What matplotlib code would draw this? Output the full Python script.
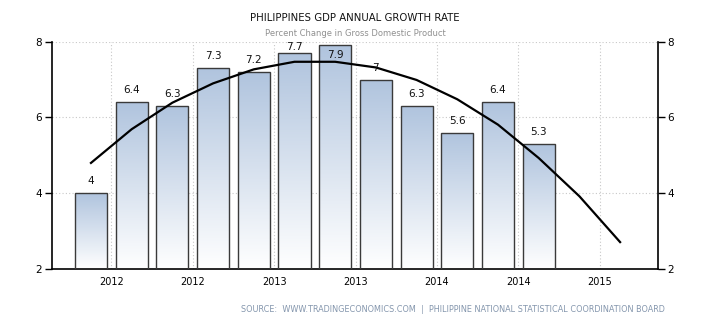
"""Philippines GDP annual growth rate: quarterly bars plus forecast line."""

import matplotlib
matplotlib.use("Agg")
import matplotlib.pyplot as plt
import numpy as np

# values
growth = [4.0, 6.4, 6.3, 7.3, 7.2, 7.7, 7.9, 7.0, 6.3, 5.6, 6.4, 5.3]
value_labels = ["4", "6.4", "6.3", "7.3", "7.2", "7.7", "7.9", "7", "6.3", "5.6", "6.4", "5.3"]
trend = [4.8, 5.69, 6.39, 6.9, 7.27, 7.47, 7.47, 7.32, 6.99, 6.48, 5.81, 4.93, 3.92, 2.71]
tick_labels = ["2012", "2012", "2013", "2013", "2014", "2014", "2015"]

TITLE = "PHILIPPINES GDP ANNUAL GROWTH RATE"
SUBTITLE = "Percent Change in Gross Domestic Product"
SOURCE = "SOURCE:  WWW.TRADINGECONOMICS.COM  |  PHILIPPINE NATIONAL STATISTICAL COORDINATION BOARD"

YMIN, YMAX = 2, 8

plt.rcParams["font.family"] = ["DejaVu Sans"]

fig = plt.figure(figsize=(7.1, 3.25), dpi=100)
ax = fig.add_axes([0.0732, 0.1723, 0.8535, 0.6994])

x_bars = np.arange(len(growth))
x_line = np.arange(len(trend))

bars = ax.bar(x_bars, np.array(growth) - YMIN, bottom=YMIN, width=0.79,
              facecolor="none", edgecolor="#3a3a3a", linewidth=1.0, zorder=3)

# vertical gradient fill, light steel blue at top fading to white
grad = np.linspace(0, 1, 256).reshape(-1, 1)
cmap = matplotlib.colors.LinearSegmentedColormap.from_list("g", ["#ffffff", "#b0c4de"])
for b in bars:
    x0, y0 = b.get_x(), b.get_y()
    im = ax.imshow(grad, cmap=cmap, aspect="auto", origin="lower",
                   extent=(x0, x0 + b.get_width(), y0, y0 + b.get_height()),
                   zorder=2)
    im.set_clip_path(b)

# labels sit above each bar; near the top they are pushed down, inside the bar if needed
above = 0.316
top_limit = YMAX - 0.13
for xi, v, lab in zip(x_bars, growth, value_labels):
    y = v + above
    if y > top_limit:
        y = top_limit
    if y < v:
        y = v - 0.26
    ax.text(xi, y, lab, ha="center", va="center", fontsize=7.5,
            color="#111111", zorder=5)

ax.plot(x_line, trend, color="black", linewidth=1.6, zorder=4)

ax.set_xlim(-0.958, 13.93)
ax.set_ylim(YMIN, YMAX)
ax.set_xticks(np.arange(0.5, 13, 2))
ax.set_xticklabels(tick_labels)
ax.set_yticks([2, 4, 6, 8])
ax.tick_params(axis="x", length=0, labelsize=7, pad=6)
ax.tick_params(axis="y", length=5, width=1, labelsize=7.5, direction="out",
               left=True, right=True, labelleft=True, labelright=True, pad=2)

ax.grid(True, linestyle=(0, (1, 2)), color="#c8c8c8", linewidth=0.8, zorder=0)
ax.set_axisbelow(True)
ax.spines["top"].set_visible(False)
for s in ("left", "right", "bottom"):
    ax.spines[s].set_color("black")
    ax.spines[s].set_linewidth(1.2)

fig.text(0.5, 1 - 18 / 325, TITLE, ha="center", va="center",
         fontsize=7.3, color="#111111")
fig.text(0.5, 1 - 34 / 325, SUBTITLE, ha="center", va="center",
         fontsize=6.0, color="#909090")
fig.text(665 / 710, 1 - 310 / 325, SOURCE, ha="right", va="center",
         fontsize=5.9, color="#8496ad")

fig.savefig("out.png", dpi=100)
